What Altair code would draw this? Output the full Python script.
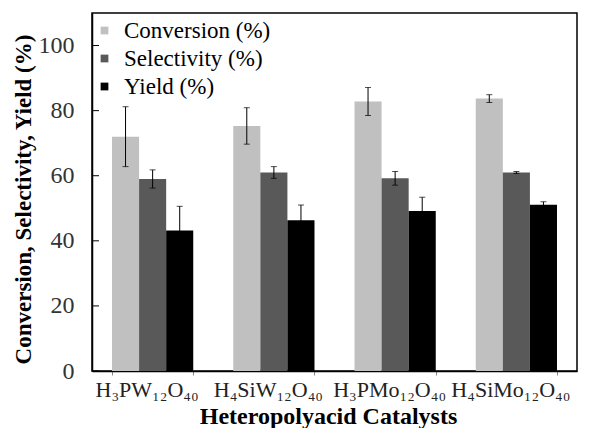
import altair as alt
import pandas as pd

catalysts = ["H₃PW₁₂O₄₀", "H₄SiW₁₂O₄₀", "H₃PMo₁₂O₄₀", "H₄SiMo₁₂O₄₀"]
series = ["Conversion (%)", "Selectivity (%)", "Yield (%)"]
conversion = [72.0, 75.3, 82.8, 83.7]
conversion_err = [9.2, 5.6, 4.3, 1.2]
selectivity = [59.0, 61.0, 59.2, 61.0]
selectivity_err = [2.8, 1.8, 2.1, 0.3]
yield_ = [43.2, 46.3, 49.2, 51.1]
yield_err = [7.4, 4.7, 4.2, 0.9]
y_ticks = [0, 20, 40, 60, 80, 100]
colors = ["#c0c0c0", "#595959", "#000000"]

rows = []
for name, vals, errs in [(series[0], conversion, conversion_err),
                         (series[1], selectivity, selectivity_err),
                         (series[2], yield_, yield_err)]:
    for c, v, e in zip(catalysts, vals, errs):
        rows.append({"cat": c, "series": name, "value": v, "lo": v - e, "hi": v + e})
df = pd.DataFrame(rows)
ticks_df = pd.DataFrame({"t": y_ticks})

FONT = "Times New Roman, Liberation Serif, serif"

x_enc = alt.X("cat:N", sort=catalysts,
              scale=alt.Scale(paddingInner=0.33, paddingOuter=0.165),
              axis=alt.Axis(title="Heteropolyacid Catalysts", labelAngle=0,
                            labelFont=FONT, labelFontSize=22, labelColor="#222",
                            labelOffset=-6, labelPadding=4,
                            tickBand="extent", tickSize=4, tickColor="#888",
                            domainColor="#000", domainWidth=1.5,
                            titleFont=FONT, titleFontSize=24, titleFontWeight="bold",
                            titleColor="#000", titleX=236, titleY=45,
                            titleBaseline="middle"))
xoff = alt.XOffset("series:N", sort=series)
y_scale = alt.Scale(domain=[0, 110], nice=False)

bars = alt.Chart(df).mark_bar().encode(
    x=x_enc,
    xOffset=xoff,
    y=alt.Y("value:Q", scale=y_scale,
            axis=alt.Axis(values=y_ticks, grid=False, ticks=False,
                          labelFont=FONT, labelFontSize=24, labelColor="#333",
                          labelPadding=18, domainColor="#000", domainWidth=1.5,
                          title="Conversion, Selectivity, Yield (%)",
                          titleFont=FONT, titleFontSize=23, titleFontWeight="bold",
                          titleColor="#000", titleX=-69, titleY=186,
                          titleBaseline="middle", titleAlign="center")),
    color=alt.Color("series:N", sort=series,
                    scale=alt.Scale(domain=series, range=colors),
                    legend=alt.Legend(title=None, orient="none", legendX=1, legendY=6,
                                      padding=0, symbolType="square", symbolSize=60,
                                      symbolStrokeWidth=0, labelFont=FONT,
                                      labelFontSize=23, labelColor="#000",
                                      rowPadding=4, labelOffset=8)),
)

err = alt.Chart(df).mark_rule(color="#000", strokeWidth=1).encode(
    x=alt.X("cat:N", sort=catalysts),
    xOffset=xoff,
    y=alt.Y("lo:Q", scale=y_scale),
    y2="hi:Q",
)
cap_hi = alt.Chart(df).mark_tick(color="#000", size=6, thickness=1).encode(
    x=alt.X("cat:N", sort=catalysts),
    xOffset=xoff,
    y=alt.Y("hi:Q", scale=y_scale),
)
cap_lo = alt.Chart(df).mark_tick(color="#000", size=6, thickness=1).encode(
    x=alt.X("cat:N", sort=catalysts),
    xOffset=xoff,
    y=alt.Y("lo:Q", scale=y_scale),
)
yticks = alt.Chart(ticks_df).mark_rule(color="#000", strokeWidth=1).encode(
    y=alt.Y("t:Q", scale=y_scale),
    x=alt.value(0), x2=alt.value(7),
)

chart = alt.layer(bars, err, cap_hi, cap_lo, yticks).properties(
    width=485, height=358,
    autosize=alt.AutoSizeParams(type="none"),
    padding={"left": 92, "top": 13, "right": 14, "bottom": 57},
    background="white",
).configure_view(stroke="#000", strokeWidth=1.5)

chart.save("out.html", embed_options={"renderer": "svg", "actions": False})
